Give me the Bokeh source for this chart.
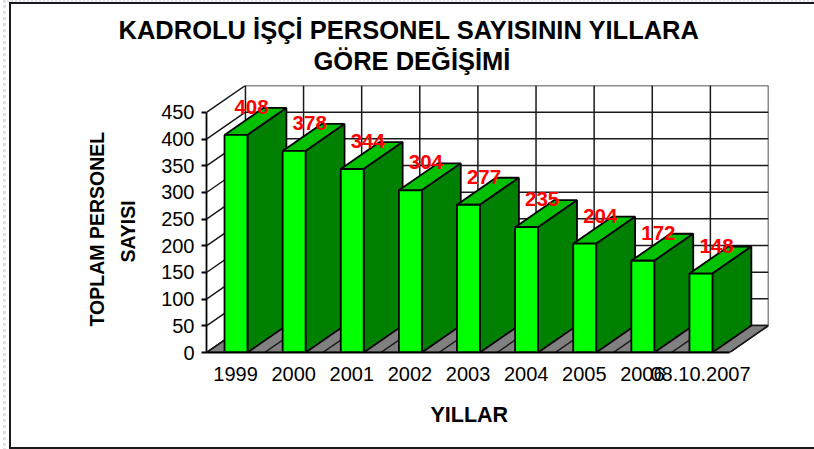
from bokeh.plotting import figure
from bokeh.models import FixedTicker, Range1d, ColumnDataSource, Title
from bokeh.embed import file_html
from bokeh.resources import INLINE
from bokeh.core.properties import value

years = ["1999", "2000", "2001", "2002", "2003", "2004", "2005", "2006", "08.10.2007"]
staff = [408, 378, 344, 304, 277, 235, 204, 172, 148]
y_ticks = [0, 50, 100, 150, 200, 250, 300, 350, 400, 450]
title_lines = ["KADROLU İŞÇİ PERSONEL SAYISININ YILLARA", "GÖRE DEĞİŞİMİ"]
y_title_lines = ["SAYISI", "TOPLAM PERSONEL"]
x_title = "YILLAR"

# 3D projection offsets, in axis units
DX = 0.67
DY = 50.6
BAR_L = 0.31
BAR_R = 0.705
n = len(years)
top = y_ticks[-1]
FONT = "Liberation Sans"

W, H = 814, 449
p = figure(width=W, height=H, output_backend="svg", toolbar_location=None,
           x_range=Range1d(0, n + DX), y_range=Range1d(0, top + DY),
           min_border_left=206, min_border_right=W - 768,
           min_border_top=85, min_border_bottom=H - 352)
p.stylesheets = ["""
:host::after { content: ""; position: absolute; left: 9px; top: 2px; width: 805px; height: 443px;
  border: 2px solid #1a1a1a; border-right: none; pointer-events: none; }
:host::before { content: ""; position: absolute; left: 3px; top: 0; width: 811px; height: 449px;
  border-left: 3px dotted #dfdfea; border-top: 2px dotted #dfdfea; pointer-events: none; z-index: 1; }
"""]
p.outline_line_color = None
p.grid.visible = False
p.background_fill_color = "white"

LINE = "#1a1a1a"
# back wall and side wall gridlines
for v in y_ticks:
    p.line([0, DX, n + DX], [v, v + DY, v + DY], line_color=LINE, line_width=1.5)
for i in range(n + 1):
    p.line([i + DX, i + DX], [DY, top + DY], line_color=LINE, line_width=1.5)

# floor
p.patch([0, n, n + DX, DX], [0, 0, DY, DY], fill_color="#808080", line_color=LINE, line_width=1.5)
p.multi_line([[i, i + DX] for i in range(n + 1)], [[0, DY] for _ in range(n + 1)],
             line_color=LINE, line_width=1.5)

# bars
for i, v in enumerate(staff):
    l, r = i + BAR_L, i + BAR_R
    p.patch([l, l + DX, r + DX, r], [v, v + DY, v + DY, v], fill_color="#00C000", line_color="black", line_width=1.8)
    p.patch([r, r + DX, r + DX, r], [0, DY, v + DY, v], fill_color="#008000", line_color="black", line_width=1.8)
    p.patch([l, r, r, l], [0, 0, v, v], fill_color="#00FF00", line_color="black", line_width=1.8)

src = ColumnDataSource(dict(x=[i + 0.5 for i in range(n)], y=staff, t=[str(v) for v in staff]))
p.text("x", "y", text="t", source=src, text_color="#FF0000", text_font=value(FONT),
       text_font_style="bold", text_font_size="20.5px", text_align="center",
       text_baseline="middle", x_offset=16, y_offset=-28)

xa, ya = p.xaxis[0], p.yaxis[0]
ya.ticker = FixedTicker(ticks=y_ticks)
ya.bounds = (0, top)
ya.major_tick_in = 0
ya.major_tick_out = 5
ya.minor_tick_line_color = None
ya.axis_line_width = 1.8
ya.major_tick_line_width = 1.8
ya.axis_line_color = "black"
ya.major_tick_line_color = "black"
ya.major_label_text_font = FONT
ya.major_label_text_font_size = "20px"
ya.major_label_text_color = "black"
ya.major_label_standoff = 7

xa.ticker = FixedTicker(ticks=[i + 0.5 for i in range(n)])
xa.major_label_overrides = {i + 0.5: y for i, y in enumerate(years)}
xa.bounds = (0, n)
xa.major_tick_in = 0
xa.major_tick_out = 0
xa.minor_tick_line_color = None
xa.axis_line_width = 1.8
xa.axis_line_color = "black"
xa.major_label_text_font = FONT
xa.major_label_text_font_size = "20px"
xa.major_label_text_color = "black"
xa.major_label_standoff = 14

def title(text, size, offset, standoff):
    return Title(text=text, align="left", offset=offset, text_font=FONT, text_font_size=size,
                 text_font_style="bold", text_color="black", standoff=standoff)

p.title = title(title_lines[0], "25.5px", -88, -20)
p.add_layout(title(title_lines[1], "25.5px", 107, 22), "above")
p.add_layout(title(y_title_lines[0], "19.5px", 90, 40), "left")
p.add_layout(title(y_title_lines[1], "19.5px", 26, -27), "left")
p.add_layout(title(x_title, "21.5px", 224, 34), "below")

open("out.html", "w").write(file_html(p, INLINE))
